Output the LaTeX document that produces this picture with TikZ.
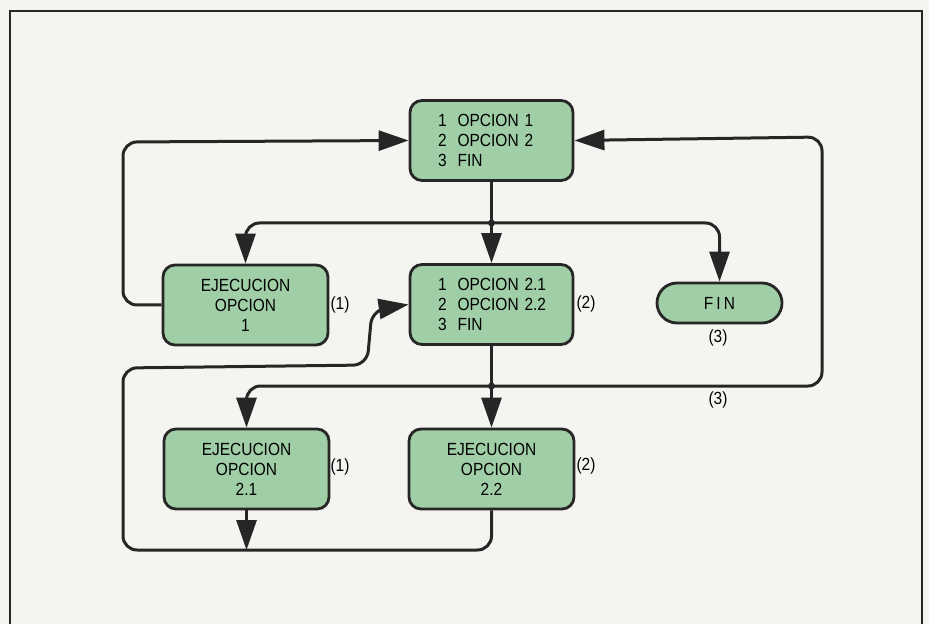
\documentclass[tikz,border=0pt]{standalone}
\usepackage{fontspec}
\setmainfont{Liberation Sans}[FakeStretch=0.88]
\usetikzlibrary{arrows.meta}
\definecolor{boxgreen}{RGB}{160,206,166}
\definecolor{paper}{RGB}{244,244,241}
\definecolor{ink}{RGB}{38,38,38}
\tikzset{
  menubox/.style={draw=ink, line width=1.4pt, fill=boxgreen, rounded corners=6pt,
    minimum width=81.5pt, minimum height=40pt, align=left, text width=53.5pt,
    inner sep=0pt, font=\fontsize{8.8}{10}\selectfont},
  execbox/.style={draw=ink, line width=1.4pt, fill=boxgreen, rounded corners=6pt,
    minimum width=82.5pt, minimum height=40pt, align=center, inner sep=0pt,
    font=\fontsize{8.8}{10}\selectfont},
  endbox/.style={draw=ink, line width=1.4pt, fill=boxgreen, rounded corners=10pt,
    minimum width=62.5pt, minimum height=20pt, inner sep=0pt,
    font=\fontsize{8.8}{10}\selectfont},
  flow/.style={draw=ink, line width=1.5pt, rounded corners=7pt},
  headed/.style={-{Triangle[width=10pt,length=15pt]}},
  tag/.style={font=\fontsize{8.8}{10}\selectfont, inner sep=0pt}
}
\newcommand{\optline}[2]{\mbox{#1\hspace{5.5pt}#2}}
\begin{document}
\begin{tikzpicture}[x=0.5pt, y=-0.5pt]
    \fill[paper] (0,0) rectangle (929,624);
    \useasboundingbox (0,0) rectangle (929,624);
    \draw[ink, line width=1.2pt] (10,624) -- (10,11) -- (922,11) -- (922,624);
    % boxes
    \node[menubox] (menu1) at (491.5,140.5)
      {\optline{1}{OPCION 1}\\\optline{2}{OPCION 2}\\\optline{3}{FIN}};
    \node[execbox] (exec1) at (245.5,305) {EJECUCION\\OPCION\\1};
    \node[menubox] (menu2) at (491.5,304.5)
      {\optline{1}{OPCION 2.1}\\\optline{2}{OPCION 2.2}\\\optline{3}{FIN}};
    \node[endbox] (fin) at (719.5,303) {\addfontfeature{LetterSpace=18}FIN};
    \node[execbox] (exec21) at (246.5,469) {EJECUCION\\OPCION\\2.1};
    \node[execbox] (exec22) at (491.5,469) {EJECUCION\\OPCION\\2.2};
    % labels
    \node[tag] (l1) at (340,305) {(1)};
    \node[tag] (l2) at (586,304) {(2)};
    \node[tag] (l3) at (718,338) {(3)};
    \node[tag] (l4) at (340,467) {(1)};
    \node[tag] (l5) at (586,466) {(2)};
    \node[tag] (l6) at (718,400) {(3)};
    % junctions
    \coordinate (j1) at (491.5,223);
    \coordinate (j2) at (491.5,386);
    \coordinate (base) at (246.5,550);
    \fill[ink] (j1) circle (3.5);
    \fill[ink] (j2) circle (3.5);
    % connectors
    \draw[flow] (menu1.south) -- (j1);
    \draw[flow, headed] (j1) -- (menu2.north);
    \draw[flow, headed] (j1) -- (245.5,223) -- (exec1.north);
    \draw[flow, headed] (j1) -- (719.5,223) -- (fin.north);
    \draw[flow, headed] (exec1.west) -- (123,305) -- (123,142) -- (menu1.west);
    \draw[flow] (menu2.south) -- (j2);
    \draw[flow, headed] (j2) -- (exec22.north);
    \draw[flow, headed] (j2) -- (246.5,386) -- (exec21.north);
    \draw[flow, headed] (j2) -- (822,386) -- (822,137) -- (menu1.east);
    \draw[flow, headed] (exec21.south) -- (base);
    \draw[flow, headed] (exec22.south) -- (491.5,550) -- (123,550) -- (123,368) -- (367,365)
      -- (372,310) -- (menu2.west);
\end{tikzpicture}
\end{document}
